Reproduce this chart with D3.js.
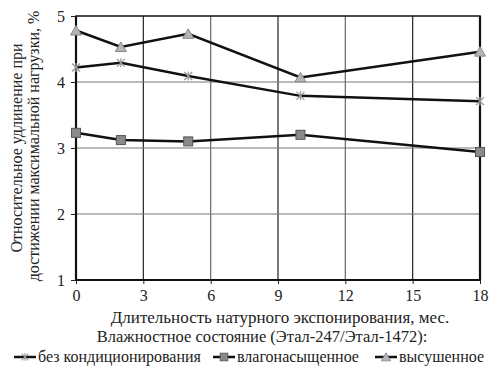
<!DOCTYPE html>
<html><head><meta charset="utf-8">
<script src="https://cdn.jsdelivr.net/npm/d3@7"></script>
<style>
body{margin:0;background:#fff;}
svg text{font-family:"Liberation Serif","Tinos","Times New Roman","DejaVu Serif",serif !important;fill:#222;}
</style></head><body>
<svg id="c" width="491" height="372"></svg>
<script>
const months = [0, 2, 5, 10, 18];
const noCond = [4.22, 4.29, 4.09, 3.79, 3.71];
const saturated = [3.23, 3.12, 3.10, 3.20, 2.94];
const dried = [4.78, 4.53, 4.73, 4.07, 4.46];
const xTicks = [0, 3, 6, 9, 12, 15, 18];
const yTicks = [1, 2, 3, 4, 5];
const seriesNames = ["без кондиционирования", "влагонасыщенное", "высушенное"];
const xTitle = "Длительность натурного экспонирования, мес.";
const legendTitle = "Влажностное состояние (Этал-247/Этал-1472):";
const yTitle1 = "Относительное удлинение при";
const yTitle2 = "достижении максимальной нагрузки, %";

const svg = d3.select("#c");
const L = 76, R = 480, T = 16, B = 280;
const x = d3.scaleLinear().domain([0, 18]).range([L, R]);
const y = d3.scaleLinear().domain([1, 5]).range([B, T]);

// grid
svg.append("g").selectAll("line").data(xTicks.slice(1, -1)).join("line")
  .attr("x1", d => x(d)).attr("x2", d => x(d)).attr("y1", T).attr("y2", B)
  .attr("stroke", (d, i) => i % 2 === 0 ? "#222" : "#666").attr("stroke-width", 1.2);
svg.append("g").selectAll("line").data(yTicks.slice(1, -1)).join("line")
  .attr("x1", L).attr("x2", R).attr("y1", d => y(d)).attr("y2", d => y(d))
  .attr("stroke", "#777").attr("stroke-width", 1.2);

// frame
svg.append("rect").attr("x", L).attr("y", T).attr("width", R - L).attr("height", B - T)
  .attr("fill", "none").attr("stroke", "#111").attr("stroke-width", 1.5);
svg.append("line").attr("x1", L).attr("x2", L).attr("y1", T).attr("y2", B).attr("stroke", "#111").attr("stroke-width", 2.2);
svg.append("line").attr("x1", L).attr("x2", R).attr("y1", B).attr("y2", B).attr("stroke", "#111").attr("stroke-width", 2.2);
svg.append("line").attr("x1", R).attr("x2", R).attr("y1", T).attr("y2", B).attr("stroke", "#111").attr("stroke-width", 2.2);

// axes
const ya = svg.append("g").attr("transform", `translate(${L},0)`)
  .call(d3.axisLeft(y).tickValues(yTicks).tickFormat(d3.format("d")).tickSize(5).tickPadding(6));
const xa = svg.append("g").attr("transform", `translate(0,${B})`)
  .call(d3.axisBottom(x).tickValues(xTicks).tickFormat(d3.format("d")).tickSize(4).tickPadding(6));
[ya, xa].forEach(a => {
  a.attr("font-family", null);
  a.select(".domain").remove();
  a.selectAll(".tick line").attr("stroke", "#222");
  a.selectAll("text").attr("font-size", 16).attr("fill", "#222");
});

// titles
svg.append("text").attr("x", 280).attr("y", 323).attr("text-anchor", "middle").attr("font-size", 17).text(xTitle);
svg.append("text").attr("x", 262).attr("y", 342).attr("text-anchor", "middle").attr("font-size", 16.5).text(legendTitle);
svg.append("text").attr("transform", "translate(22,148) rotate(-90)").attr("text-anchor", "middle").attr("font-size", 16).text(yTitle1);
svg.append("text").attr("transform", "translate(39,146) rotate(-90)").attr("text-anchor", "middle").attr("font-size", 16).text(yTitle2);

// series
const line = d3.line().x(d => x(d[0])).y(d => y(d[1]));
const allSeries = [noCond, saturated, dried];
const markerFns = [
  (g) => { // asterisk
    g.append("path").attr("d", "M-4,-4L4,4M-4,4L4,-4M0,-4.5L0,4.5").attr("stroke", "#999").attr("stroke-width", 1.3).attr("fill", "none");
  },
  (g) => {
    g.append("rect").attr("x", -4.5).attr("y", -4.5).attr("width", 9).attr("height", 9).attr("fill", "#8a8a8a").attr("stroke", "#555").attr("stroke-width", 1);
  },
  (g) => {
    g.append("path").attr("d", "M0,-5L5.5,4.5L-5.5,4.5Z").attr("fill", "#b5b5b5").attr("stroke", "#888").attr("stroke-width", 1);
  }
];
allSeries.forEach((vals, si) => {
  const pts = months.map((m, i) => [m, vals[i]]);
  svg.append("path").attr("d", line(pts)).attr("fill", "none").attr("stroke", "#111").attr("stroke-width", 2.5);
  svg.append("g").selectAll("g").data(pts).join("g")
    .attr("transform", d => `translate(${x(d[0])},${y(d[1])})`)
    .each(function () { markerFns[si](d3.select(this)); });
});

// legend
const legX = [14, 213, 375];
seriesNames.forEach((n, i) => {
  const g = svg.append("g").attr("transform", `translate(${legX[i]},357)`);
  g.append("line").attr("x1", 0).attr("x2", 22).attr("y1", 0).attr("y2", 0).attr("stroke", "#111").attr("stroke-width", 2.5);
  const m = g.append("g").attr("transform", "translate(11,0) scale(0.85)");
  markerFns[i](m);
  g.append("text").attr("x", 24).attr("y", 5).attr("font-size", 16).text(n);
});
</script>
</body></html>
